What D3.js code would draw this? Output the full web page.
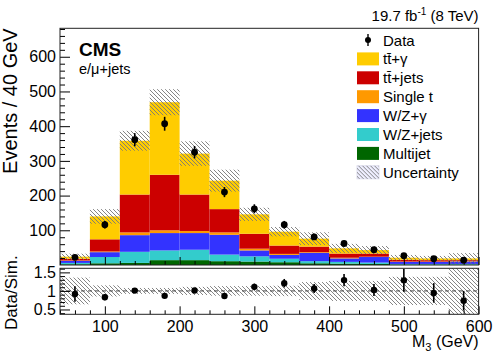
<!DOCTYPE html>
<html>
<head>
<meta charset="utf-8">
<script src="https://cdn.jsdelivr.net/npm/d3@7"></script>
<style>
  body { margin: 0; background: #fff; }
  text { font-family: "Liberation Sans", Arial, sans-serif; fill: #000; }
</style>
</head>
<body>
<svg id="chart"></svg>
<script>
// bin edges (GeV)
const binLow = [40, 80, 120, 160, 200, 240, 280, 320, 360, 400, 440, 480, 520, 560];
const binHigh = [80, 120, 160, 200, 240, 280, 320, 360, 400, 440, 480, 520, 560, 600];

// stacked backgrounds, bottom to top (events / 40 GeV)
const multijet = [2, 5, 6, 14, 14, 11, 10, 8, 5, 4, 3, 1, 1, 1];
const wzJets = [4, 18, 32, 28, 30, 19, 15, 10, 6, 5, 4, 2, 2, 2];
const wzGamma = [6, 14, 48, 50, 48, 57, 17, 11, 24, 10, 16, 6, 6, 7];
const singleTop = [1, 2, 8, 8, 6, 7, 5, 3, 2, 2, 1, 1, 1, 1];
const ttJets = [5, 35, 109, 160, 105, 67, 43, 24, 16, 12, 9, 5, 4, 3];
const ttGamma = [6, 66, 155, 209, 118, 82, 56, 40, 23, 15, 10, 6, 5, 5];

// relative uncertainty of the simulation
const simUnc = [0.36, 0.15, 0.08, 0.08, 0.11, 0.13, 0.13, 0.14, 0.24, 0.27, 0.27, 0.38, 0.38, 0.8];

// data
const dataCounts = [22, 116, 361, 407, 325, 210, 162, 116, 81, 62, 44, 27, 18, 14];
const dataErr = [5, 11, 19, 20, 18, 14.5, 13, 11, 9, 8, 7, 6.5, 5, 5];

const xTicksMajor = [100, 200, 300, 400, 500, 600];
const xTicksMinor = [40, 60, 80, 120, 140, 160, 180, 220, 240, 260, 280, 320, 340, 360, 380, 420, 440, 460, 480, 520, 540, 560, 580];
const yTicksMajor = [100, 200, 300, 400, 500, 600];
const rTicksMajor = [0.5, 1, 1.5];
const rTicksMinor = [0.4, 0.6, 0.7, 0.8, 0.9, 1.1, 1.2, 1.3, 1.4, 1.6];

const processes = [
  { key: "multijet", label: "Multijet", color: "#006600", values: multijet },
  { key: "wzjets", label: "W/Z+jets", color: "#33cccc", values: wzJets },
  { key: "wzgamma", label: "W/Z+\u03b3", color: "#3333ff", values: wzGamma },
  { key: "singlet", label: "Single t", color: "#ff9900", values: singleTop },
  { key: "ttjets", label: "t\u0074\u0304+jets", color: "#cc0000", values: ttJets },
  { key: "ttgamma", label: "t\u0074\u0304+\u03b3", color: "#ffcc00", values: ttGamma },
];

const W = 498, H = 358;
const frame = { left: 60, right: 478.6, top: 28.3, bottom: 265 };
const rframe = { top: 268.3, bottom: 314.3 };

const svg = d3.select("#chart").attr("width", W).attr("height", H);

// hatch pattern for uncertainty
const defs = svg.append("defs");
const pat = defs.append("pattern")
  .attr("id", "hatch")
  .attr("patternUnits", "userSpaceOnUse")
  .attr("width", 4)
  .attr("height", 4);
pat.append("path")
  .attr("d", "M0,0 L4,4 M-1,3 L1,5 M3,-1 L5,1")
  .attr("stroke", "#777")
  .attr("stroke-width", 0.9);

defs.append("clipPath").attr("id", "rclip")
  .append("rect")
  .attr("x", frame.left).attr("y", rframe.top)
  .attr("width", frame.right - frame.left).attr("height", rframe.bottom - rframe.top);

// scales
const x = d3.scaleLinear().domain([40, 600]).range([frame.left, frame.right]);
const y = d3.scaleLinear().domain([0, 682]).range([frame.bottom, frame.top]);
const yr = d3.scaleLinear().domain([0.37, 1.61]).range([rframe.bottom, rframe.top]);

// table for the stack
const table = binLow.map((lo, i) => {
  const row = { lo, hi: binHigh[i] };
  processes.forEach((p) => (row[p.key] = p.values[i]));
  return row;
});
const stack = d3.stack().keys(processes.map((p) => p.key));
const series = stack(table);
const totals = table.map((row) => d3.sum(processes, (p) => row[p.key]));

// ---------- main panel ----------
const gMain = svg.append("g");

gMain.selectAll("g.layer")
  .data(series)
  .join("g")
  .attr("class", "layer")
  .attr("fill", (d, i) => processes[i].color)
  .selectAll("rect")
  .data((d) => d)
  .join("rect")
  .attr("x", (d) => x(d.data.lo))
  .attr("width", (d) => x(d.data.hi) - x(d.data.lo))
  .attr("y", (d) => y(d[1]))
  .attr("height", (d) => y(d[0]) - y(d[1]));

gMain.selectAll("rect.unc")
  .data(table)
  .join("rect")
  .attr("class", "unc")
  .attr("x", (d) => x(d.lo))
  .attr("width", (d) => x(d.hi) - x(d.lo))
  .attr("y", (d, i) => y(totals[i] * (1 + simUnc[i])))
  .attr("height", (d, i) => y(Math.max(0, totals[i] * (1 - simUnc[i]))) - y(totals[i] * (1 + simUnc[i])))
  .attr("fill", "url(#hatch)");

// data points
const mid = (i) => (binLow[i] + binHigh[i]) / 2;
gMain.selectAll("line.err")
  .data(dataCounts)
  .join("line")
  .attr("class", "err")
  .attr("x1", (d, i) => x(mid(i)))
  .attr("x2", (d, i) => x(mid(i)))
  .attr("y1", (d, i) => y(d - dataErr[i]))
  .attr("y2", (d, i) => y(d + dataErr[i]))
  .attr("stroke", "#000")
  .attr("stroke-width", 1.6);
gMain.selectAll("circle.pt")
  .data(dataCounts)
  .join("circle")
  .attr("class", "pt")
  .attr("cx", (d, i) => x(mid(i)))
  .attr("cy", (d) => y(d))
  .attr("r", 3.4)
  .attr("fill", "#000");

// axes main
function styleAxis(g) {
  g.select(".domain").remove();
  g.selectAll(".tick line").attr("stroke", "#000");
  g.selectAll(".tick text").attr("font-size", 16).attr("font-family", "Liberation Sans, Arial, sans-serif");
}
gMain.append("g")
  .attr("transform", `translate(${frame.left},0)`)
  .call(d3.axisLeft(y).tickValues(yTicksMajor).tickSize(-10).tickPadding(4))
  .call(styleAxis)
  .call((g) => g.selectAll(".tick text").attr("x", -4));
gMain.append("g")
  .attr("transform", `translate(${frame.left},0)`)
  .call(d3.axisLeft(y).tickValues(d3.range(20, 681, 20).filter((v) => v % 100 !== 0)).tickSize(-5).tickFormat(""))
  .call(styleAxis);
gMain.append("g")
  .attr("transform", `translate(0,${frame.bottom})`)
  .call(d3.axisBottom(x).tickValues(xTicksMajor).tickSize(-8).tickFormat(""))
  .call(styleAxis);
gMain.append("g")
  .attr("transform", `translate(0,${frame.bottom})`)
  .call(d3.axisBottom(x).tickValues(xTicksMinor).tickSize(-4).tickFormat(""))
  .call(styleAxis);

gMain.append("rect")
  .attr("x", frame.left).attr("y", frame.top)
  .attr("width", frame.right - frame.left).attr("height", frame.bottom - frame.top)
  .attr("fill", "none").attr("stroke", "#222").attr("stroke-width", 1);

// ---------- ratio panel ----------
const gRatio = svg.append("g");
gRatio.append("g").attr("clip-path", "url(#rclip)")
  .selectAll("rect")
  .data(table)
  .join("rect")
  .attr("x", (d) => x(d.lo))
  .attr("width", (d) => x(d.hi) - x(d.lo))
  .attr("y", (d, i) => yr(1 + simUnc[i]))
  .attr("height", (d, i) => yr(1 - simUnc[i]) - yr(1 + simUnc[i]))
  .attr("fill", "url(#hatch)");

gRatio.append("line")
  .attr("x1", frame.left).attr("x2", frame.right)
  .attr("y1", yr(1)).attr("y2", yr(1))
  .attr("stroke", "#444").attr("stroke-dasharray", "4,3").attr("stroke-width", 1);

const ratios = dataCounts.map((d, i) => d / totals[i]);
const ratioErr = dataErr.map((e, i) => e / totals[i]);
gRatio.selectAll("line.err")
  .data(ratios)
  .join("line")
  .attr("class", "err")
  .attr("x1", (d, i) => x(mid(i)))
  .attr("x2", (d, i) => x(mid(i)))
  .attr("y1", (d, i) => yr(d - ratioErr[i]))
  .attr("y2", (d, i) => yr(Math.min(1.61, d + ratioErr[i])))
  .attr("stroke", "#000")
  .attr("stroke-width", 1.6);
gRatio.selectAll("circle")
  .data(ratios)
  .join("circle")
  .attr("cx", (d, i) => x(mid(i)))
  .attr("cy", (d) => yr(d))
  .attr("r", 3.2)
  .attr("fill", "#000");

gRatio.append("g")
  .attr("transform", `translate(${frame.left},0)`)
  .call(d3.axisLeft(yr).tickValues(rTicksMajor).tickSize(-10).tickFormat((d) => d))
  .call(styleAxis)
  .call((g) => g.selectAll(".tick text").attr("x", -4));
gRatio.append("g")
  .attr("transform", `translate(${frame.left},0)`)
  .call(d3.axisLeft(yr).tickValues(rTicksMinor).tickSize(-5).tickFormat(""))
  .call(styleAxis);
gRatio.append("g")
  .attr("transform", `translate(0,${rframe.bottom})`)
  .call(d3.axisBottom(x).tickValues(xTicksMajor).tickSize(-8).tickPadding(6))
  .call(styleAxis);
gRatio.append("g")
  .attr("transform", `translate(0,${rframe.bottom})`)
  .call(d3.axisBottom(x).tickValues(xTicksMinor).tickSize(-4).tickFormat(""))
  .call(styleAxis);

gRatio.append("rect")
  .attr("x", frame.left).attr("y", rframe.top)
  .attr("width", frame.right - frame.left).attr("height", rframe.bottom - rframe.top)
  .attr("fill", "none").attr("stroke", "#222").attr("stroke-width", 1);

// ---------- texts ----------
svg.append("text")
  .attr("x", 79).attr("y", 56)
  .attr("font-size", 19).attr("font-weight", "bold")
  .text("CMS");
svg.append("text")
  .attr("x", 79).attr("y", 74)
  .attr("font-size", 14.5)
  .text("e/\u03bc+jets");

const lumi = svg.append("text")
  .attr("x", frame.right).attr("y", 21)
  .attr("text-anchor", "end")
  .attr("font-size", 15);
lumi.append("tspan").text("19.7 fb");
lumi.append("tspan").attr("font-size", 10).attr("dy", -6).text("-1");
lumi.append("tspan").attr("dy", 6).text(" (8 TeV)");

svg.append("text")
  .attr("transform", `translate(17,${frame.top}) rotate(-90)`)
  .attr("text-anchor", "end")
  .attr("font-size", 20)
  .text("Events / 40 GeV");
svg.append("text")
  .attr("transform", `translate(17,330) rotate(-90)`)
  .attr("text-anchor", "start")
  .attr("font-size", 17)
  .text("Data/Sim.");

const xt = svg.append("text")
  .attr("x", frame.right).attr("y", 347)
  .attr("text-anchor", "end")
  .attr("font-size", 16);
xt.append("tspan").text("M");
xt.append("tspan").attr("font-size", 11).attr("dy", 4).text("3");
xt.append("tspan").attr("dy", -4).text(" (GeV)");

// ---------- legend ----------
const legendItems = [{ key: "data", label: "Data" }]
  .concat(processes.slice().reverse())
  .concat([{ key: "unc", label: "Uncertainty" }]);
const leg = svg.append("g").attr("transform", "translate(357,40)");
const rows = leg.selectAll("g")
  .data(legendItems)
  .join("g")
  .attr("transform", (d, i) => `translate(0,${i * 18.9})`);
rows.each(function (d) {
  const r = d3.select(this);
  if (d.key === "data") {
    r.append("line").attr("x1", 11).attr("x2", 11).attr("y1", -6).attr("y2", 6)
      .attr("stroke", "#000").attr("stroke-width", 1.4);
    r.append("circle").attr("cx", 11).attr("cy", 0).attr("r", 3).attr("fill", "#000");
  } else if (d.key === "unc") {
    r.append("rect").attr("x", 0).attr("y", -6.5).attr("width", 22).attr("height", 13)
      .attr("fill", "#eef").attr("stroke", "#dde");
    r.append("rect").attr("x", 0).attr("y", -6.5).attr("width", 22).attr("height", 13)
      .attr("fill", "url(#hatch)");
  } else {
    r.append("rect").attr("x", 0).attr("y", -6.5).attr("width", 22).attr("height", 13)
      .attr("fill", d.color);
  }
  r.append("text").attr("x", 26).attr("y", 5.5).attr("font-size", 15).text(d.label);
});
</script>
</body>
</html>
